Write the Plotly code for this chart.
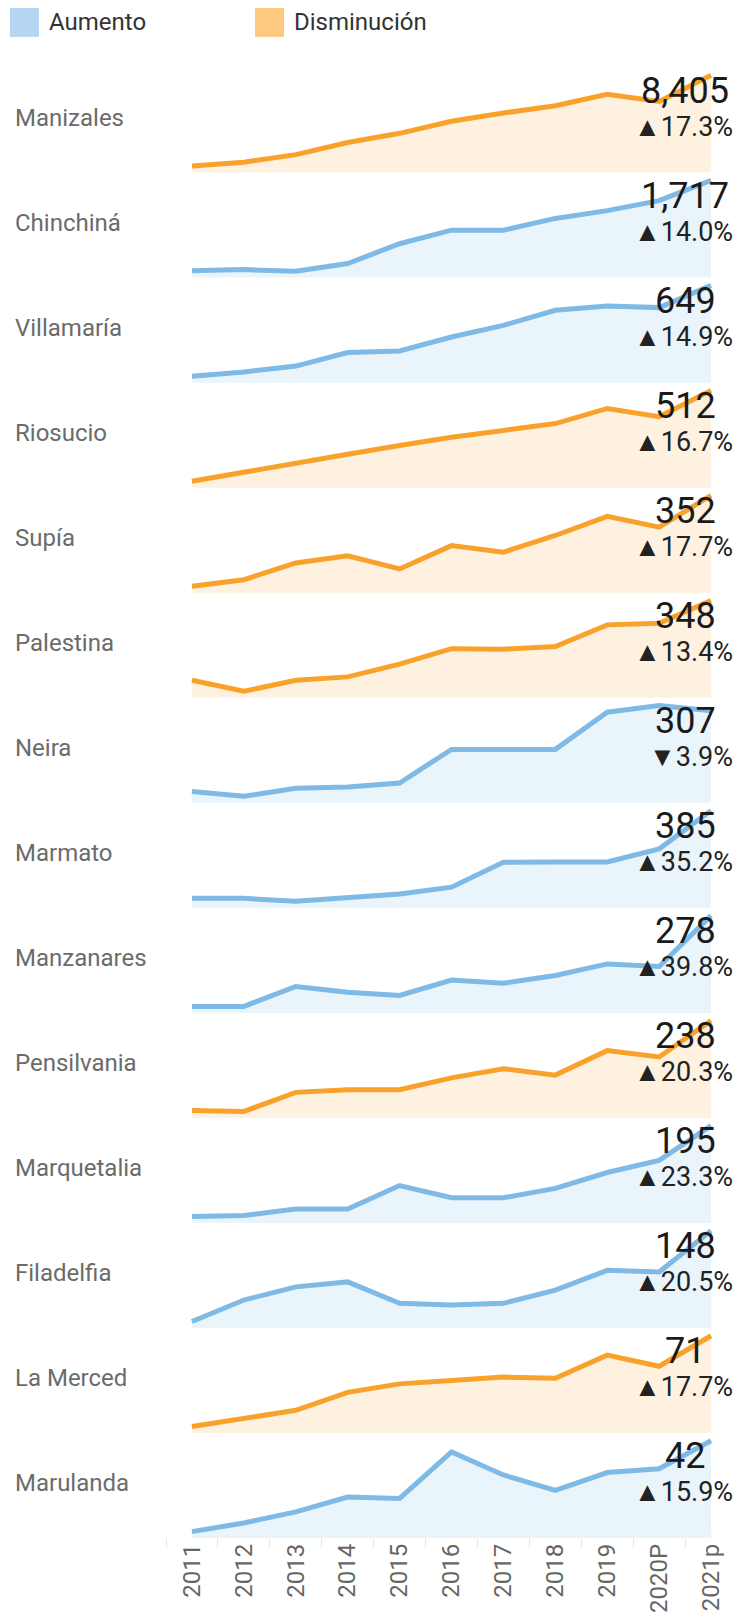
import plotly.graph_objects as go

years = ["2011", "2012", "2013", "2014", "2015", "2016", "2017", "2018", "2019", "2020P", "2021p"]

municipios = ["Manizales", "Chinchiná", "Villamaría", "Riosucio", "Supía", "Palestina", "Neira",
              "Marmato", "Manzanares", "Pensilvania", "Marquetalia", "Filadelfia", "La Merced", "Marulanda"]

manizales = [4112, 4298, 4654, 5228, 5662, 6235, 6622, 6963, 7506, 7165, 8405]
chinchina = [775, 786, 770, 849, 1056, 1197, 1197, 1320, 1401, 1506, 1717]
villamaria = [306, 322, 344, 395, 401, 454, 498, 555, 571, 565, 649]
riosucio = [260, 286, 312, 335, 359, 382, 401, 420, 462, 439, 512]
supia = [200, 211, 239, 251, 229, 268, 257, 285, 317, 299, 352]
palestina = [204, 184, 204, 210, 233, 261, 260, 265, 304, 307, 348]
neira = [125, 114, 132, 135, 144, 220, 220, 220, 304, 319, 307]
marmato = [156, 156, 148, 157, 167, 185, 250, 251, 251, 285, 385]
manzanares = [137, 137, 168, 159, 154, 178, 173, 185, 203, 199, 278]
pensilvania = [139, 138, 159, 162, 162, 175, 185, 178, 205, 198, 238]
marquetalia = [98, 99, 106, 106, 131, 118, 118, 128, 145, 158, 195]
filadelfia = [93, 106, 114, 117, 104, 103, 104, 112, 124, 123, 148]
la_merced = [39.1, 41.9, 44.8, 51.1, 54.1, 55.3, 56.5, 56.1, 64.2, 60.3, 71]
marulanda = [23.1, 24.9, 27.2, 30.3, 30.0, 39.7, 34.9, 31.7, 35.4, 36.2, 42]

series = [manizales, chinchina, villamaria, riosucio, supia, palestina, neira,
          marmato, manzanares, pensilvania, marquetalia, filadelfia, la_merced, marulanda]

variacion = [17.3, 14.0, 14.9, 16.7, 17.7, 13.4, -3.9, 35.2, 39.8, 20.3, 23.3, 20.5, 17.7, 15.9]

grupo = ["Disminución", "Aumento", "Aumento", "Disminución", "Disminución", "Disminución", "Aumento",
         "Aumento", "Aumento", "Disminución", "Aumento", "Aumento", "Disminución", "Aumento"]

legend_items = ["Aumento", "Disminución"]

# styles
W, H = 737, 1613
LINE = {"Aumento": "#7FB9E6", "Disminución": "#F9A22B"}
FILL = {"Aumento": "rgba(127,185,230,0.16)", "Disminución": "rgba(249,162,43,0.15)"}
SWATCH = {"Aumento": "#B4D6F2", "Disminución": "#FDC97E"}
FONT = "Roboto, 'Noto Sans', sans-serif"

first_bottom = 173.0
step = 105.3
panel_h = 101.0
x_left = 166.0

fig = go.Figure()
layout = dict(width=W, height=H, margin=dict(l=0, r=0, t=0, b=0),
              paper_bgcolor="white", plot_bgcolor="rgba(0,0,0,0)",
              showlegend=False, font=dict(family=FONT))
annotations = []
shapes = []

n = len(municipios)
for i, (name, vals, pct, g) in enumerate(zip(municipios, series, variacion, grupo)):
    k = "" if i == 0 else str(i + 1)
    bottom = first_bottom + step * i
    top = bottom - panel_h
    vmin, vmax = min(vals), max(vals)
    s = (vmax - vmin) / 91.0
    yr = [vmin - 6.5 * s, vmax + 3.5 * s]
    fig.add_trace(go.Scatter(
        x=years, y=vals, mode="lines", xaxis="x" + k, yaxis="y" + k,
        line=dict(color=LINE[g], width=5), fill="tozeroy", fillcolor=FILL[g],
        hoverinfo="x+y"))
    last = i == n - 1
    layout["xaxis" + k] = dict(
        type="category", range=[-0.5, 10.5], domain=[x_left / W, 1.0],
        anchor="y" + k, showgrid=False, zeroline=False, showline=False,
        showticklabels=last, tickangle=-90, tickson="boundaries",
        ticks="outside" if last else "", ticklen=8, tickcolor="#e3e3e3",
        tickfont=dict(size=24, color="#666666", family=FONT), fixedrange=True)
    layout["yaxis" + k] = dict(
        range=yr, domain=[(H - bottom) / H, (H - top) / H], anchor="x" + k,
        showgrid=False, zeroline=False, showticklabels=False, showline=False,
        fixedrange=True)
    ydom = "y" + k + " domain"
    annotations.append(dict(text=name, xref="paper", x=13 / W, xanchor="left",
                            yref=ydom, y=55 / panel_h, yanchor="middle", showarrow=False,
                            font=dict(size=24, color="#6b6b6b", family=FONT)))
    annotations.append(dict(text=f"{vals[-1]:,.0f}", xref="x" + k, x=9.5, xanchor="center",
                            yref=ydom, y=82 / panel_h, yanchor="middle", showarrow=False,
                            font=dict(size=36, color="#1a1a1a", family=FONT)))
    arrow = "▲" if pct >= 0 else "▼"
    annotations.append(dict(text=f"{arrow}{abs(pct):.1f}%", xref="paper", x=735 / W, xanchor="right",
                            yref=ydom, y=46 / panel_h, yanchor="middle", showarrow=False,
                            font=dict(size=27, color="#222222", family=FONT)))

# legend (drawn)
leg_x = [10, 255]
for lx, item in zip(leg_x, legend_items):
    shapes.append(dict(type="rect", xref="paper", yref="paper",
                       x0=lx / W, x1=(lx + 29) / W, y0=(H - 37) / H, y1=(H - 8) / H,
                       fillcolor=SWATCH[item], line=dict(width=0)))
    annotations.append(dict(text=item, xref="paper", yref="paper", x=(lx + 37) / W,
                            y=(H - 22.5) / H, xanchor="left", yanchor="middle", showarrow=False,
                            font=dict(size=24, color="#333333", family=FONT)))

layout["annotations"] = annotations
layout["shapes"] = shapes
fig.update_layout(**layout)
fig.write_html("out.html", config={"displayModeBar": False},
               post_script="document.body.style.margin='0';document.body.style.overflow='hidden';")
